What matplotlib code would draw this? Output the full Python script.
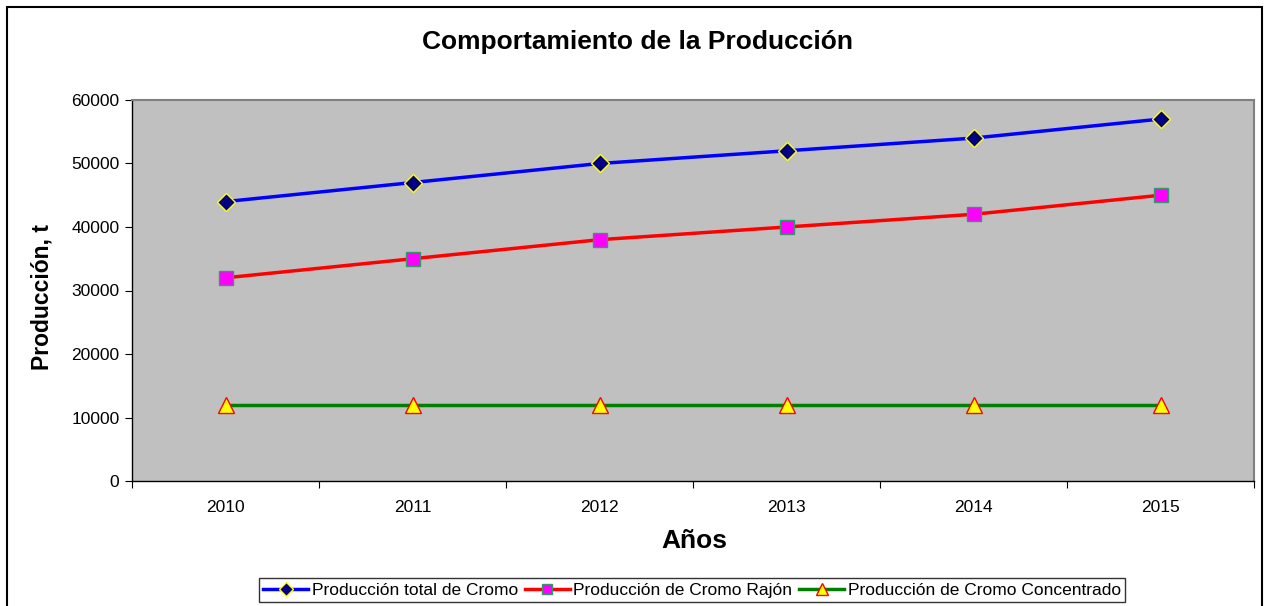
import matplotlib.pyplot as plt
from matplotlib.patches import Rectangle

plt.rcParams['font.family'] = ['Liberation Sans', 'DejaVu Sans']

years = ['2010', '2011', '2012', '2013', '2014', '2015']
total = [44000, 47000, 50000, 52000, 54000, 57000]
rajon = [32000, 35000, 38000, 40000, 42000, 45000]
concentrado = [12000, 12000, 12000, 12000, 12000, 12000]

fig = plt.figure(figsize=(12.66, 6.06), dpi=100)
ax = fig.add_axes([132/1266, 1-481/606, (1254-132)/1266, (481-100)/606])
ax.set_facecolor('#c0c0c0')

x = list(range(len(years)))
ax.plot(x, total, color='#0000ff', lw=2.5, marker='D', markersize=9,
        markerfacecolor='#000080', markeredgecolor='#ffff00', markeredgewidth=1,
        label='Producción total de Cromo', zorder=3)
ax.plot(x, rajon, color='#ff0000', lw=2.5, marker='s', markersize=10,
        markerfacecolor='#ff00ff', markeredgecolor='#339966', markeredgewidth=1,
        label='Producción de Cromo Rajón', zorder=3)
ax.plot(x, concentrado, color='#008000', lw=2.5, marker='^', markersize=11,
        markerfacecolor='#ffff00', markeredgecolor='#ff0000', markeredgewidth=1,
        label='Producción de Cromo Concentrado', zorder=3)

ax.set_xlim(-0.5, len(years) - 0.5)
ax.set_ylim(0, 60000)
ax.set_yticks(range(0, 60001, 10000))
ax.set_xticks([i - 0.5 for i in range(len(years) + 1)])
ax.set_xticklabels([])
ax.set_xticks(x, minor=True)
ax.set_xticklabels(years, minor=True)
ax.tick_params(axis='x', which='minor', length=0, pad=14, labelsize=12.5)
ax.tick_params(axis='x', which='major', length=5, direction='out')
ax.tick_params(axis='y', length=5, direction='out', labelsize=12.5, pad=4)

for s in ['top', 'right']:
    ax.spines[s].set_color('#808080')
    ax.spines[s].set_linewidth(1.5)
for s in ['left', 'bottom']:
    ax.spines[s].set_color('black')
    ax.spines[s].set_linewidth(1)

fig.text(638/1266, 1-42/606, 'Comportamiento de la Producción', ha='center', va='center',
         fontsize=19, fontweight='bold')
fig.text(42/1266, 1-297/606, 'Producción, t', ha='center', va='center',
         rotation=90, fontsize=16.5, fontweight='bold')
fig.text(694/1266, 1-541/606, 'Años', ha='center', va='center',
         fontsize=19, fontweight='bold')

leg = fig.legend(loc='center', bbox_to_anchor=(692/1266, 1-590/606), ncol=3,
                 frameon=True, fancybox=False, fontsize=12.5, handlelength=2.6,
                 handletextpad=0.2, columnspacing=0.4, borderpad=0.25,
                 borderaxespad=0, markerscale=0.75)
leg.get_frame().set_edgecolor('black')
leg.get_frame().set_linewidth(1)

fig.patches.append(Rectangle((7/1266, -0.05), (1262-7)/1266, 1.05 - 7/606,
                             transform=fig.transFigure, fill=False,
                             edgecolor='black', linewidth=1.5))

fig.savefig('out.png', dpi=100)
